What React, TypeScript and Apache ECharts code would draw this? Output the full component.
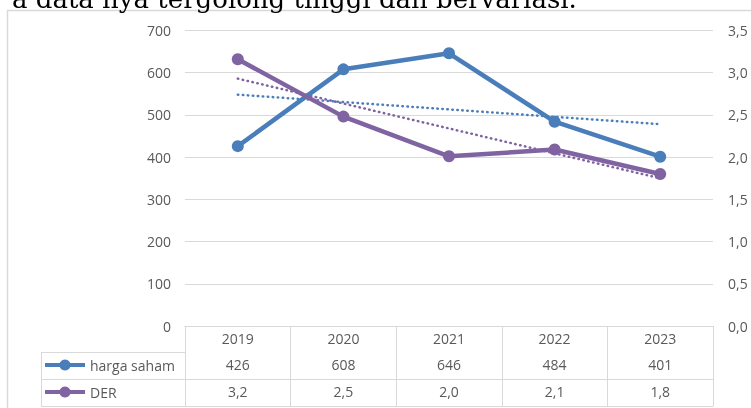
import React, { useEffect, useRef } from "react";
import * as echarts from "echarts";

const years = ["2019", "2020", "2021", "2022", "2023"];
const hargaSaham = [426, 608, 646, 484, 401];
const der = [3.16, 2.48, 2.01, 2.09, 1.8];
const hargaTrend = [548, 478]; // linear trendline ends (2019, 2023)
const derTrend = [2.93, 1.75];
const leftTicks = { min: 0, max: 700, interval: 100 };
const rightTicks = { min: 0, max: 3.5, interval: 0.5 };
const caption = "a data nya tergolong tinggi dan bervariasi.";

const BLUE = "#4A7EBB";
const PURPLE = "#8064A2";
const GRID = "#D9D9D9";
const TXT = "#595959";
const FONT = "'Open Sans', sans-serif";

const fmtComma = (v: number) => v.toFixed(1).replace(".", ",");

export default function App() {
  const ref = useRef<HTMLDivElement>(null);
  useEffect(() => {
    if (!ref.current) return;
    const chart = echarts.init(ref.current, null, { renderer: "svg" });
    const gLeft = 185, gRight = 713, gBottom = 326;
    const tableX = 41;
    const rowY = [352.5, 379.5, 406.5];
    const legendBase = {
      orient: "horizontal",
      left: 43,
      padding: 0,
      itemWidth: 40,
      itemHeight: 14,
      itemStyle: { borderWidth: 0 },
      lineStyle: { width: 4 },
      textStyle: { fontSize: 14, color: TXT, fontFamily: FONT },
    };
    chart.setOption({
      animation: false,
      textStyle: { fontFamily: FONT },
      grid: { left: gLeft, right: 751 - gRight, top: 30.5, bottom: 408 - gBottom },
      legend: [
        { ...legendBase, data: ["harga saham"], top: 358 },
        { ...legendBase, data: ["DER"], top: 385 },
      ],
      xAxis: [
        {
          type: "category",
          data: years,
          position: "bottom",
          axisLine: { show: true, lineStyle: { color: GRID, width: 1 } },
          axisTick: { show: true, length: 80, interval: 0, alignWithLabel: false, lineStyle: { color: GRID } },
          axisLabel: { margin: 5, fontSize: 14, color: TXT, fontFamily: FONT },
          splitLine: { show: false },
        },
        {
          type: "category",
          data: hargaSaham.map((v) => String(v)),
          position: "bottom",
          offset: 26.5,
          axisLine: { show: true, lineStyle: { color: GRID, width: 1 } },
          axisTick: { show: false },
          axisLabel: { margin: 5, fontSize: 14, color: TXT, fontFamily: FONT },
        },
        {
          type: "category",
          data: der.map(fmtComma),
          position: "bottom",
          offset: 53.5,
          axisLine: { show: true, lineStyle: { color: GRID, width: 1 } },
          axisTick: { show: false },
          axisLabel: { margin: 5, fontSize: 14, color: TXT, fontFamily: FONT },
        },
        {
          type: "category",
          data: years,
          position: "bottom",
          offset: 80.5,
          axisLine: { show: true, lineStyle: { color: GRID, width: 1 } },
          axisTick: { show: false },
          axisLabel: { show: false },
        },
      ],
      yAxis: [
        {
          type: "value",
          ...leftTicks,
          position: "left",
          axisLine: { show: false },
          axisTick: { show: false },
          axisLabel: { margin: 14, fontSize: 14, color: TXT, fontFamily: FONT },
          splitLine: { show: true, lineStyle: { color: GRID, width: 1 } },
        },
        {
          type: "value",
          ...rightTicks,
          position: "right",
          axisLine: { show: false },
          axisTick: { show: false },
          axisLabel: { margin: 15, fontSize: 14, color: TXT, fontFamily: FONT, formatter: (v: number) => fmtComma(v) },
          splitLine: { show: false },
        },
      ],
      series: [
        {
          name: "harga saham trend",
          type: "line",
          xAxisIndex: 0,
          yAxisIndex: 0,
          data: [[0, hargaTrend[0]], [years.length - 1, hargaTrend[1]]],
          symbol: "none",
          lineStyle: { color: BLUE, width: 2.5, type: [0.5, 4.5], cap: "round" },
          z: 1,
        },
        {
          name: "DER trend",
          type: "line",
          xAxisIndex: 0,
          yAxisIndex: 1,
          data: [[0, derTrend[0]], [years.length - 1, derTrend[1]]],
          symbol: "none",
          lineStyle: { color: PURPLE, width: 2.5, type: [0.5, 4.5], cap: "round" },
          z: 1,
        },
        {
          name: "harga saham",
          type: "line",
          xAxisIndex: 0,
          yAxisIndex: 0,
          data: hargaSaham,
          symbol: "circle",
          symbolSize: 12,
          itemStyle: { color: BLUE },
          lineStyle: { color: BLUE, width: 4.5 },
          z: 3,
        },
        {
          name: "DER",
          type: "line",
          xAxisIndex: 0,
          yAxisIndex: 1,
          data: der,
          symbol: "circle",
          symbolSize: 12,
          itemStyle: { color: PURPLE },
          lineStyle: { color: PURPLE, width: 4.5 },
          z: 3,
        },
      ],
      graphic: [
        {
          type: "rect",
          shape: { x: 7.5, y: 10.5, width: 900, height: 600 },
          style: { fill: "none", stroke: GRID, lineWidth: 1.5 },
          silent: true,
          z: 0,
        },
        {
          type: "text",
          x: 12,
          y: 12,
          style: {
            text: caption,
            fontFamily: "'DejaVu Serif', serif",
            fontSize: 26,
            fill: "#000",
            verticalAlign: "bottom",
          },
          silent: true,
        },
        {
          type: "line",
          shape: { x1: tableX + 0.5, y1: rowY[0], x2: tableX + 0.5, y2: rowY[2] },
          style: { stroke: GRID, lineWidth: 1 },
          silent: true,
        },
        ...rowY.map((y) => ({
          type: "line",
          shape: { x1: tableX, y1: y, x2: gLeft, y2: y },
          style: { stroke: GRID, lineWidth: 1 },
          silent: true,
        })),
      ],
    });
    return () => chart.dispose();
  }, []);
  return <div ref={ref} style={{ position: "fixed", left: 0, top: 0, width: 751, height: 408 }} />;
}
